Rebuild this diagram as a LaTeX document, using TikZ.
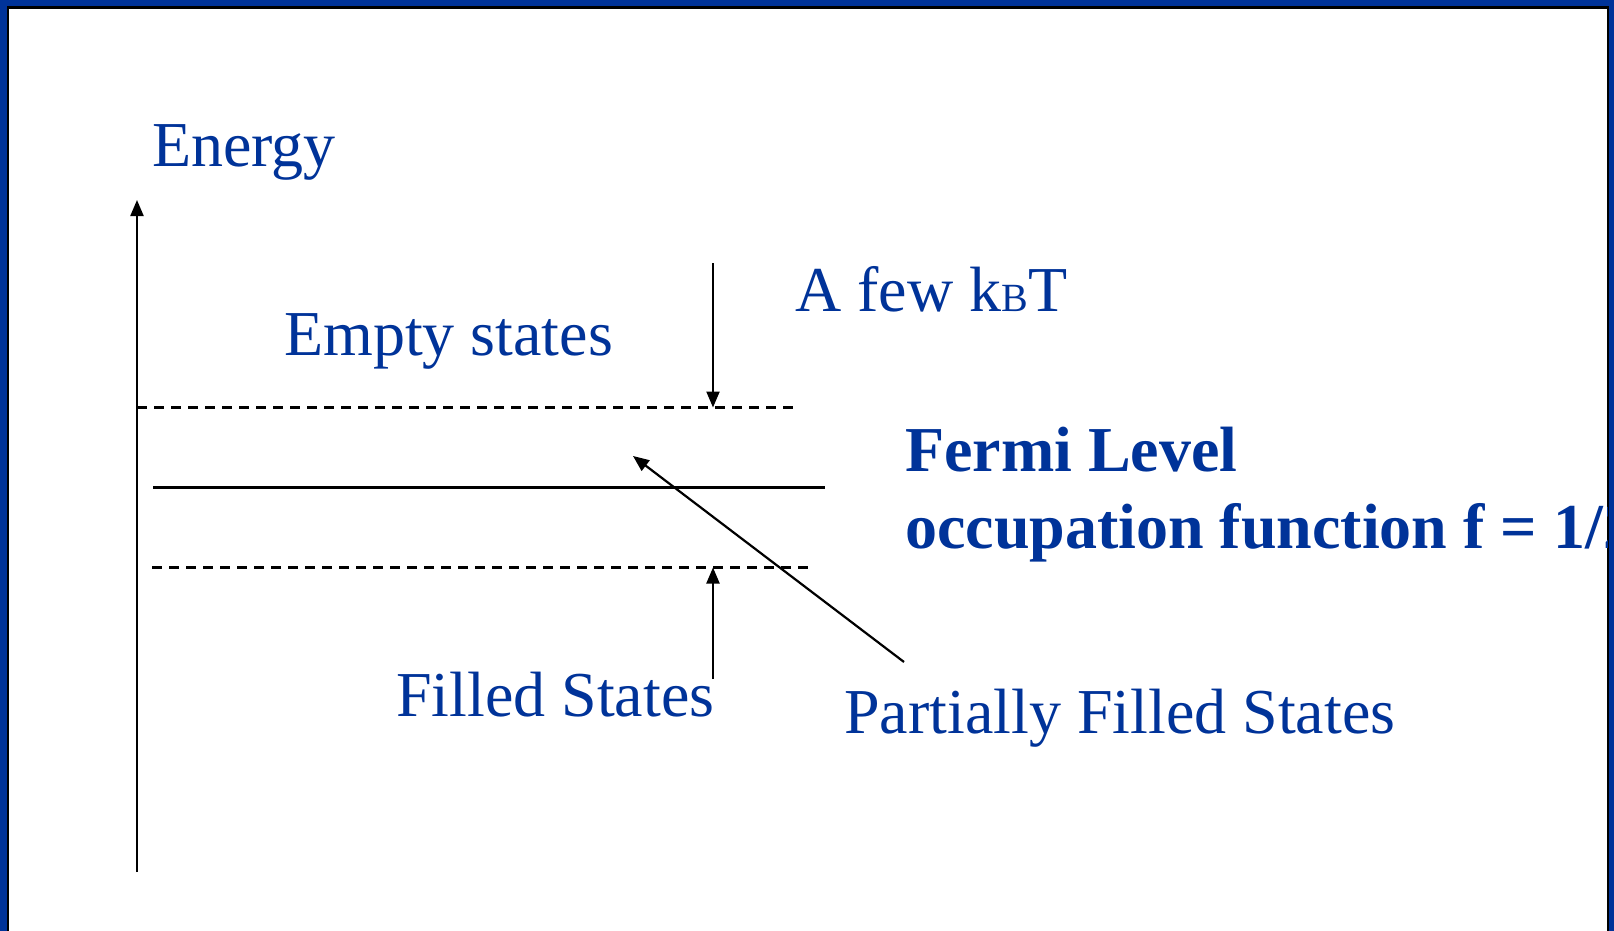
\documentclass[tikz,border=0pt]{standalone}
\usepackage{fontspec}
\setmainfont{Liberation Serif}
\usetikzlibrary{arrows.meta}
\definecolor{pblue}{RGB}{0,51,153}
\begin{document}
\begin{tikzpicture}[x=1pt,y=-1pt,
  lbl/.style={anchor=base west,inner sep=0pt,text=pblue,font=\fontsize{64}{72}\selectfont},
  blbl/.style={lbl,font=\fontsize{64}{72}\selectfont\bfseries},
  ln/.style={line width=2.2pt,draw=black},
  dln/.style={line width=2.2pt,draw=black,dash pattern=on 10pt off 7pt},
  arr/.style={line width=2.2pt,draw=black,-{Triangle[length=16pt,width=13pt]}}]
\useasboundingbox (0,0) rectangle (1614,931);
\fill[pblue] (0,0) rectangle (1614,931);
\fill[black] (7,6) rectangle (1609,940);
\fill[white] (9,9) rectangle (1607,940);
\begin{scope}
\clip (9,9) rectangle (1607,931);
% axis
\coordinate (axb) at (137,872);
\coordinate (axt) at (137,200);
\draw[arr] (axb) -- (axt);
% levels
\coordinate (u1) at (137,407.5);
\coordinate (u2) at (793,407.5);
\draw[dln] (u1) -- (u2);
\coordinate (f1) at (153,487.5);
\coordinate (f2) at (825,487.5);
\draw[ln] (f1) -- (f2);
\coordinate (l1) at (152,567.5);
\coordinate (l2) at (809,567.5);
\draw[dln] (l1) -- (l2);
% kT arrows
\coordinate (da) at (713,263);
\coordinate (db) at (713,407.5);
\draw[arr] (da) -- (db);
\coordinate (ua) at (713,679);
\coordinate (ub) at (713,567.5);
\draw[arr] (ua) -- (ub);
% diagonal
\coordinate (pa) at (904,662);
\coordinate (pb) at (633,456);
\draw[arr] (pa) -- (pb);
% texts
\node[lbl] (energy) at (152,166.7) {Energy};
\node[lbl] (kbt) at (795,311.5) {A few k{\fontsize{40}{40}\selectfont B}T};
\node[lbl] (empty) at (284,355.5) {Empty states};
\node[blbl] (fermi) at (905,471.7) {Fermi Level};
\node[blbl] (occ) at (905,548) {occupation function f = 1/2};
\node[lbl] (filled) at (396,716) {Filled States};
\node[lbl] (partial) at (844,733) {Partially Filled States};
\end{scope}
\end{tikzpicture}
\end{document}
